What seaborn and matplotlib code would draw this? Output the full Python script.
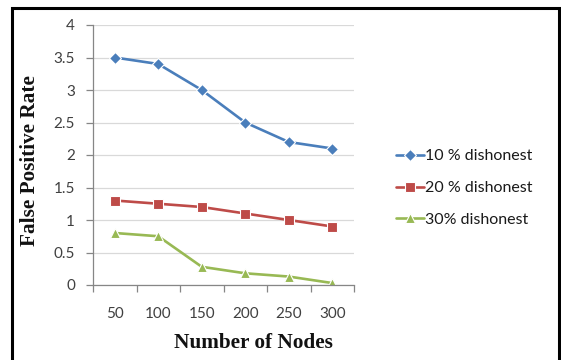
import matplotlib
matplotlib.use("Agg")
import matplotlib.pyplot as plt
from matplotlib.patches import Rectangle
from matplotlib.ticker import FixedLocator, FuncFormatter
import seaborn as sns
import pandas as pd

# Data
nodes = ["50", "100", "150", "200", "250", "300"]
series_names = ["10 % dishonest", "20 % dishonest", "30% dishonest"]
rate_10 = [3.5, 3.4, 3.0, 2.5, 2.2, 2.1]
rate_20 = [1.3, 1.25, 1.2, 1.1, 1.0, 0.9]
rate_30 = [0.8, 0.75, 0.28, 0.18, 0.13, 0.03]
y_ticks = [0, 0.5, 1, 1.5, 2, 2.5, 3, 3.5, 4]

colors = ["#4A7EBB", "#BE4B48", "#98B954"]
markers = ["D", "s", "^"]

rows = []
for name, vals in zip(series_names, [rate_10, rate_20, rate_30]):
    for i, (n, v) in enumerate(zip(nodes, vals)):
        rows.append({"pos": i, "nodes": n, "rate": v, "series": name})
df = pd.DataFrame(rows)

sns.set_theme(style="white")
tick_font = "Lato"

fig = plt.figure(figsize=(5.61, 3.60), dpi=100)
ax = fig.add_axes([93 / 561, 1 - 285 / 360, (354 - 93) / 561, (285 - 25) / 360])

sns.lineplot(data=df, x="pos", y="rate", hue="series", style="series",
             palette=colors, markers=markers, dashes=False, linewidth=1.9,
             markersize=6.5, markeredgewidth=0.8, ax=ax)

ax.set_xlim(-0.5, len(nodes) - 0.5)
ax.set_ylim(0, 4)

# y axis: gridlines and labels
ax.yaxis.set_major_locator(FixedLocator(y_ticks))
ax.yaxis.set_major_formatter(FuncFormatter(lambda v, p: f"{v:g}"))
ax.grid(axis="y", color="#D9D9D9", linewidth=0.9)
ax.set_axisbelow(True)

# x axis: tick marks between categories, labels at the category centres
ax.xaxis.set_major_locator(FixedLocator([i - 0.5 for i in range(len(nodes) + 1)]))
ax.xaxis.set_major_formatter(FuncFormatter(lambda v, p: ""))
ax.xaxis.set_minor_locator(FixedLocator(list(range(len(nodes)))))
ax.xaxis.set_minor_formatter(FuncFormatter(lambda v, p: nodes[int(round(v))]))

ax.tick_params(axis="x", which="major", direction="out", length=5, width=0.9,
               color="#868686", bottom=True)
ax.tick_params(axis="x", which="minor", length=0, pad=16, labelsize=11,
               labelcolor="#404040", bottom=True)
ax.tick_params(axis="y", which="major", direction="out", length=5, width=0.9,
               color="#868686", left=True, pad=8, labelsize=11,
               labelcolor="#404040")
for lab in ax.get_xticklabels(minor=True) + ax.get_yticklabels():
    lab.set_fontfamily(tick_font)

for side in ["top", "right"]:
    ax.spines[side].set_visible(False)
for side in ["left", "bottom"]:
    ax.spines[side].set_color("#868686")
    ax.spines[side].set_linewidth(0.9)

ax.set_xlabel("")
ax.set_ylabel("")
fig.text(253 / 561, 1 - 343 / 360, "Number of Nodes", ha="center", va="center",
         fontfamily="Liberation Serif", fontweight="bold", fontsize=15.3,
         color="#111111")
fig.text(30 / 561, 1 - 161 / 360, "False Positive Rate", ha="center",
         va="center", rotation=90, fontfamily="Liberation Serif",
         fontweight="bold", fontsize=15.3, color="#111111")

leg = ax.legend(loc="center left", bbox_to_anchor=(390 / 561, 1 - 188 / 360),
                bbox_transform=fig.transFigure, frameon=False,
                prop={"family": tick_font, "size": 11.5}, handlelength=1.7,
                handletextpad=0.1, labelspacing=1.1, borderaxespad=0)
for t in leg.get_texts():
    t.set_color("#1a1a1a")

# Outer frame around the chart
fig.patches.append(Rectangle((12 / 561, -0.05), (559 - 12) / 561, 1 - 8 / 360 + 0.05,
                             transform=fig.transFigure, fill=False,
                             edgecolor="black", linewidth=2.2))

fig.savefig("out.png", dpi=100)
